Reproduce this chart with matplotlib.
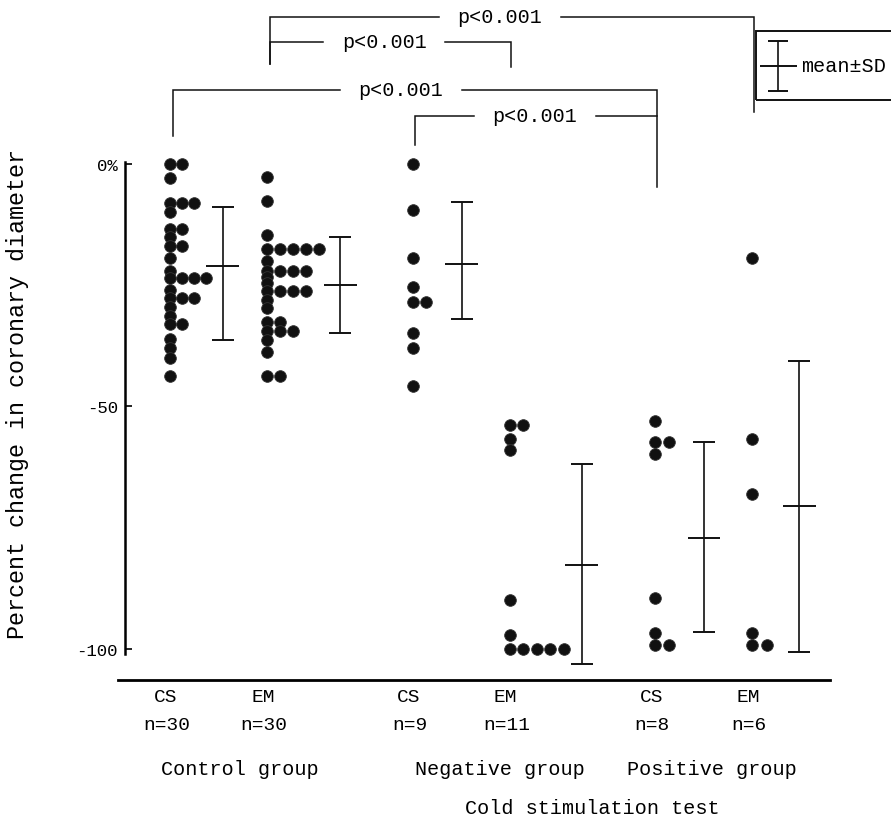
import matplotlib
matplotlib.use("Agg")
import matplotlib.pyplot as plt
from matplotlib.patches import Rectangle

plt.rcParams['font.family'] = ['Liberation Mono', 'DejaVu Sans Mono']

# column order: control CS, control EM, negative CS, negative EM, positive CS, positive EM
tests = ['CS', 'EM', 'CS', 'EM', 'CS', 'EM']
n_labels = ['n=30', 'n=30', 'n=9', 'n=11', 'n=8', 'n=6']
groups = ['Control group', 'Negative group', 'Positive group']

ctrl_cs = [0, 0, -3, -8, -8, -8, -10, -13.5, -13.5, -15, -17, -17, -19.5, -22,
           -23.6, -23.6, -23.6, -23.6, -26, -27.7, -27.7, -27.7, -29.4, -31.4,
           -33, -33, -36, -38, -40, -43.7]
ctrl_em = [-2.7, -7.6, -14.6, -17.6, -17.6, -17.6, -17.6, -17.6, -20,
           -22, -22, -22, -22, -23.3, -24.6, -26.3, -26.3, -26.3, -26.3, -28,
           -29.8, -32.5, -32.5, -34.5, -34.5, -34.5, -36.3, -38.7, -43.7, -43.7]
neg_cs = [0, -9.5, -19.5, -25.3, -28.4, -28.4, -34.8, -38, -45.8]
neg_em = [-53.8, -53.8, -56.7, -58.9, -90, -97.2, -100, -100, -100, -100, -100]
pos_cs = [-53, -57.3, -57.3, -59.8, -89.5, -96.7, -99.2, -99.2]
pos_em = [-19.5, -56.7, -68, -96.7, -99.2, -99.2]
series = [ctrl_cs, ctrl_em, neg_cs, neg_em, pos_cs, pos_em]

means = [-21.1, -25, -20.7, -82.7, -77.2, -70.6]
sd_top = [-8.8, -15, -7.8, -61.8, -57.3, -40.6]
sd_bottom = [-36.3, -34.9, -32, -103, -96.5, -100.6]

# layout
col_x = [0, 1, 2.5, 3.5, 5, 6]
bar_off = [0.546, 0.753, 0.51, 0.747, 0.505, 0.485]
dot_step = [0.124, 0.135, 0.14, 0.14, 0.14, 0.15]

fig = plt.figure(figsize=(8.91, 8.2), dpi=100)
ax = fig.add_axes([118/891, 1 - 681/820, (830 - 118)/891, 681/820])
ax.set_xlim(-0.536, 6.804)
ax.set_ylim(-106.4, 34.0)

ink = '#111111'

for x0, vals, step in zip(col_x, series, dot_step):
    xs, seen = [], {}
    for v in vals:
        k = seen.get(v, 0)
        seen[v] = k + 1
        xs.append(x0 + k * step)
    ax.plot(xs, vals, 'o', ms=8.4, color=ink, mec='#333333', mew=0.6,
            clip_on=False)

for x0, off, m, hi, lo in zip(col_x, bar_off, means, sd_top, sd_bottom):
    xb = x0 + off
    ax.vlines(xb, lo, hi, color=ink, lw=1.2)
    ax.hlines([hi, lo], xb - 0.11, xb + 0.11, color=ink, lw=1.4)
    ax.hlines(m, xb - 0.17, xb + 0.17, color=ink, lw=1.4)

# axes
for s in ['top', 'right']:
    ax.spines[s].set_visible(False)
ax.spines['left'].set_position(('data', -0.464))
ax.spines['left'].set_bounds(-101, 0.4)
ax.spines['left'].set_linewidth(1.8)
ax.spines['bottom'].set_linewidth(2.0)
ax.set_xticks([])
ax.set_yticks([0, -50, -100])
ax.set_yticklabels(['0%', '-50', '-100'], fontsize=12.5)
ax.tick_params(axis='y', direction='in', length=5, width=1.2, pad=5)

fig.text(18/891, 1 - 394/820, 'Percent change in coronary diameter',
         rotation=90, ha='center', va='center', fontsize=16.8)

# category labels
for x0, t, n in zip(col_x, tests, n_labels):
    ax.text(x0 - 0.04, -109.7, t, ha='center', va='center', fontsize=14)
    ax.text(x0 - 0.03, -115.5, n, ha='center', va='center', fontsize=14)
for gx, g in zip([0.72, 3.40, 5.59], groups):
    ax.text(gx, -124.7, g, ha='center', va='center', fontsize=14.5)
ax.text(4.35, -132.6, 'Cold stimulation test', ha='center', va='center',
        fontsize=14.5)

# significance brackets: left col, right col, level, left drop, right drop, text x
brackets = [
    (1, 5, 30.3, 20.6, 10.7, 3.40),
    (1, 3, 25.2, 20.6, 20.0, 2.21),
    (0, 4, 15.3, 5.8, -4.7, 2.38),
    (2, 4, 9.9, 3.9, 9.9, 3.76),
]
gap = 0.63
for li, ri, lev, ld, rd, tx in brackets:
    xl, xr = col_x[li] + 0.03, col_x[ri] + 0.02
    ax.plot([xl, xl, tx - gap], [ld, lev, lev], color=ink, lw=1.1,
            clip_on=False, solid_joinstyle='miter')
    ax.plot([tx + gap, xr, xr], [lev, lev, rd], color=ink, lw=1.1,
            clip_on=False, solid_joinstyle='miter')
    ax.text(tx, lev, 'p<0.001', ha='center', va='center', fontsize=14.5)

# mean±SD key (box runs past the right edge)
ax.add_patch(Rectangle((6.041, 13.2), 2.5, 14.2, fill=False, ec=ink, lw=1.4,
                       clip_on=False))
kx = 6.268
ax.vlines(kx, 15.1, 25.3, color=ink, lw=1.2, clip_on=False)
ax.hlines([15.1, 25.3], kx - 0.1, kx + 0.1, color=ink, lw=1.4, clip_on=False)
ax.hlines(20.2, kx - 0.19, kx + 0.2, color=ink, lw=1.4, clip_on=False)
ax.text(6.51, 20.2, 'mean\u00b1SD', ha='left', va='center', fontsize=14.5)

fig.savefig('out.png', dpi=100)
